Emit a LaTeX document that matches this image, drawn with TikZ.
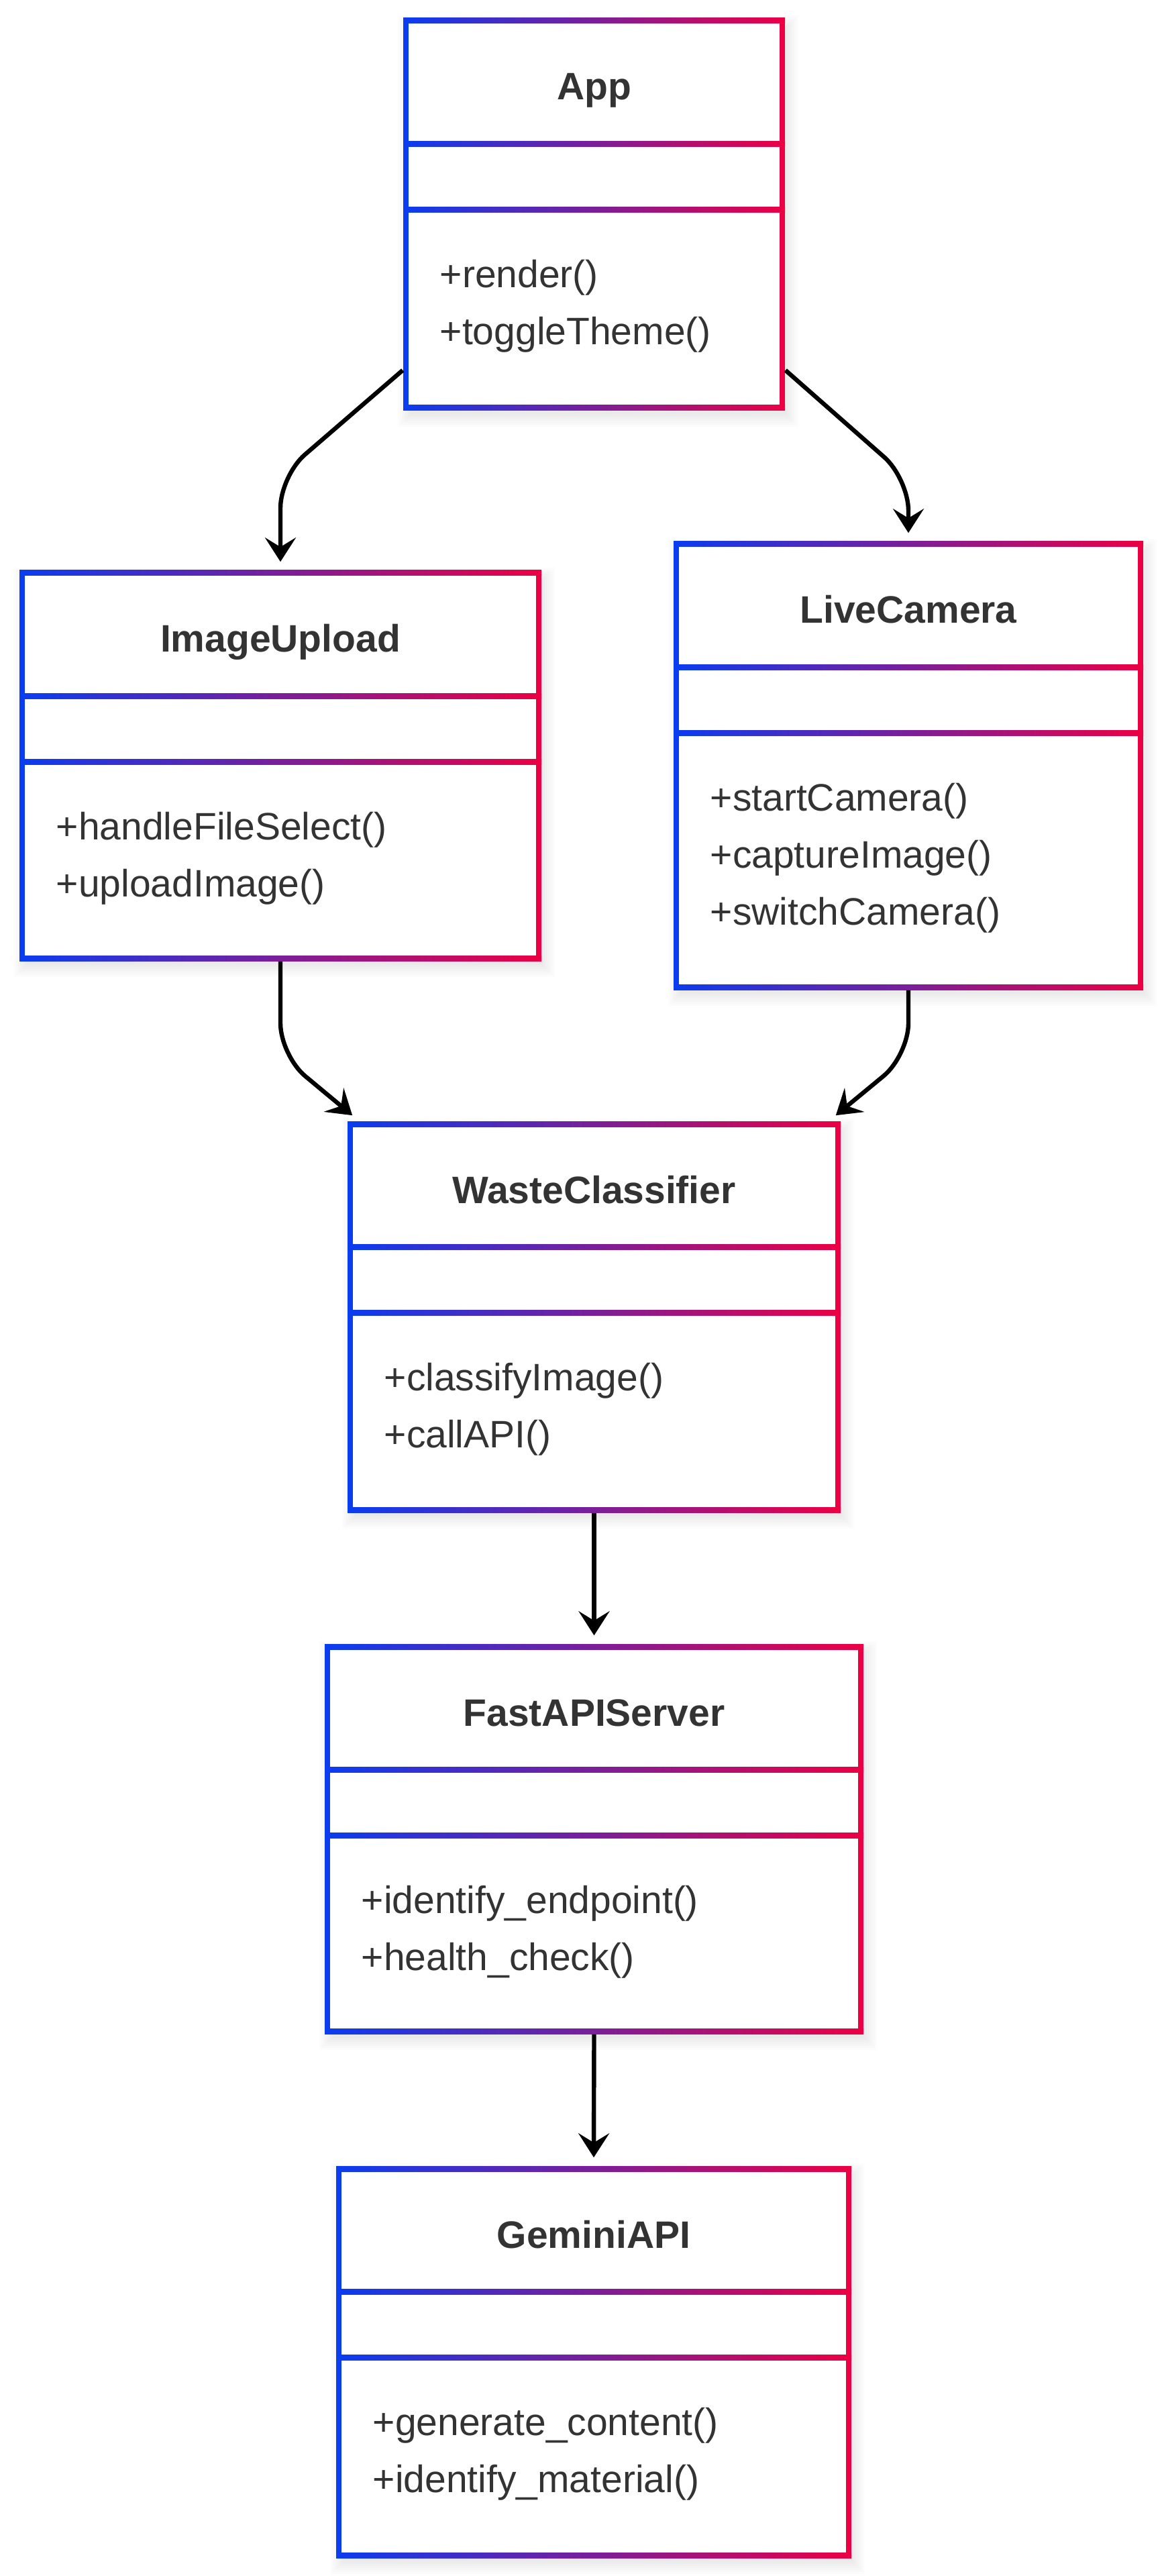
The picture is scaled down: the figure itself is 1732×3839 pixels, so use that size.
\documentclass[tikz,border=0pt]{standalone}
\usepackage{fontspec}
\setmainfont{Liberation Sans}
\usetikzlibrary{arrows.meta,fit}
\definecolor{ublue}{RGB}{10,60,240}
\definecolor{ured}{RGB}{236,0,68}
\definecolor{utext}{RGB}{51,51,51}
\tikzset{
  classtitle/.style={font=\bfseries\fontsize{14.25}{17}\selectfont, text=utext, anchor=base, inner sep=0pt},
  method/.style={font=\fontsize{14.25}{17}\selectfont, text=utext, anchor=base west, inner sep=0pt},
  link/.style={-{Stealth[length=9pt,width=11.5pt,inset=3.5pt]}, line width=1.6pt, rounded corners=12pt},
}
% class box: name, left, right, top, bottom, title, methods
\newcommand{\umlclass}[7]{
  \pgfmathsetmacro\dA{#4+183.5}
  \pgfmathsetmacro\dB{#4+281.5}
  % soft shadow
  \foreach \s in {0,3,...,18}
    \fill[black, opacity=0.012] (#2+6-\s,#4+10-\s) rectangle (#3+6+\s,#5+10+\s);
  \fill[white] (#2,#4) rectangle (#3,#5);
  \path (#2,#4) coordinate (#1-tl) (#3,#5) coordinate (#1-br);
  \node[fit=(#1-tl)(#1-br), inner sep=0pt] (#1) {};
  % gradient lines
  \foreach \yy in {#4,\dA,\dB,#5}
    \shade[left color=ublue, right color=ured] (#2-4,\yy-4) rectangle (#3+4,\yy+4);
  \fill[ublue] (#2-4,#4-4) rectangle (#2+4,#5+4);
  \fill[ured] (#3-4,#4-4) rectangle (#3+4,#5+4);
  \node[classtitle] (#1-title) at ({(#2+#3)/2},#4+118) {#6};
  \foreach \m [count=\i] in {#7}
    \node[method] (#1-m\i) at (#2+50,\dB+116+85*\i-85) {\m};
}
\begin{document}
\begin{tikzpicture}[x=0.25pt, y=-0.25pt]
	\useasboundingbox[fill=white] (0,0) rectangle (1732,3839);
	% classes
	\umlclass{app}{605}{1166}{31}{608}{App}{+render(),+toggleTheme()}
	\umlclass{iu}{33}{803}{854}{1428}{ImageUpload}{+handleFileSelect(),+uploadImage()}
	\umlclass{lc}{1008}{1700}{811}{1471}{LiveCamera}{+startCamera(),+captureImage(),+switchCamera()}
	\umlclass{wc}{522}{1249}{1675}{2250}{WasteClassifier}{+classifyImage(),+callAPI()}
	\umlclass{fas}{488}{1283}{2454}{3027}{FastAPIServer}{+identify\_endpoint(),+health\_check()}
	\umlclass{gem}{505}{1265}{3232}{3808}{GeminiAPI}{+generate\_content(),+identify\_material()}
	% app to its two inputs
	\draw[link] ([shift={(-1pt,14.25pt)}]app.south west) -- (iu.north |- 0,709) -- ([yshift=4pt]iu.north);
	\draw[link] ([shift={(1pt,14.25pt)}]app.south east) -- (lc.north |- 0,713) -- ([yshift=4pt]lc.north);
	% both inputs into the classifier
	\draw[link] ([yshift=-1pt]iu.south) -- (iu.south |- 0,1573) -- ([shift={(1pt,3pt)}]wc.north west);
	\draw[link] ([yshift=-1pt]lc.south) -- (lc.south |- 0,1573) -- ([shift={(-1pt,3pt)}]wc.north east);
	% down the chain
	\draw[link] ([yshift=-1pt]wc.south) -- ([yshift=4pt]fas.north);
	\draw[link] ([yshift=-1pt]fas.south) -- ([yshift=4pt]gem.north);
\end{tikzpicture}
\end{document}
